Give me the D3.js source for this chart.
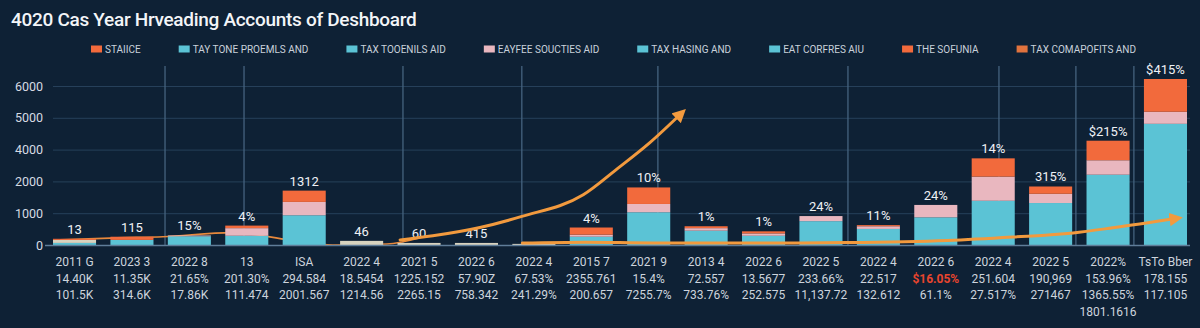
<!DOCTYPE html>
<html lang="en">
<head>
  <meta charset="UTF-8">
  <title>Deshboard</title>
  <script src="https://d3js.org/d3.v7.min.js"></script>
  <style>
    html, body { margin: 0; padding: 0; background: #0e2135; }
    svg { display: block; font-family: Roboto, "Noto Sans", sans-serif; }
  </style>
</head>
<body>

  <script>
    ((window, document) => {
      "use strict";

      /**
       * -----------------------------------------------------------------------
       *  Data
       * -----------------------------------------------------------------------
       */
      const TITLE = "4020 Cas Year Hrveading Accounts of Deshboard";

      const LEGEND_LABELS = [
        "STAIICE", "TAY TONE PROEMLS AND", "TAX TOOENILS AID", "EAYFEE SOUCTIES AID",
        "TAX HASING AND", "EAT CORFRES AIU", "THE SOFUNIA", "TAX COMAPOFITS AND",
      ];
      const LEGEND_COLORS = [
        "#f26a3c", "#5bc3d5", "#5bc3d5", "#e9b7bf",
        "#5bc3d5", "#5bc3d5", "#f26a3c", "#e0733e",
      ];

      // x labels, three rows (+ one extra line under "2022%")
      const ROW1 = [
        "2011 G", "2023 3", "2022 8", "13", "ISA", "2022 4", "2021 5", "2022 6", "2022 4", "2015 7",
        "2021 9", "2013 4", "2022 6", "2022 5", "2022 4", "2022 6", "2022 4", "2022 5", "2022%", "TsTo Bber",
      ];
      const ROW2 = [
        "14.40K", "11.35K", "21.65%", "201.30%", "294.584", "18.5454", "1225.152", "57.90Z", "67.53%", "2355.761",
        "15.4%", "72.557", "13.5677", "233.66%", "22.517", "$16.05%", "251.604", "190,969", "153.96%", "178.155",
      ];
      const ROW3 = [
        "101.5K", "314.6K", "17.86K", "111.474", "2001.567", "1214.56", "2265.15", "758.342", "241.29%", "200.657",
        "7255.7%", "733.76%", "252.575", "11,137.72", "132.612", "61.1%", "27.517%", "271467", "1365.55%", "117.105",
      ];
      const ROW4 = ["", "", "", "", "", "", "", "", "", "", "", "", "", "", "", "", "", "", "1801.1616", ""];
      const RED_LABEL = 15;

      const Y_TICKS = [0, 1000, 2000, 4000, 5000, 6000];

      // stacked segments, bottom to top
      const TEAL   = [65, 160, 275, 290, 935, 0, 0, 0, 0, 260, 1030, 450, 290, 750, 505, 870, 1390, 1320, 2420, 4810];
      const BEIGE  = [95, 0, 0, 0, 0, 130, 65, 65, 35, 0, 0, 0, 0, 0, 0, 0, 0, 0, 0, 0];
      const PINK   = [0, 0, 25, 240, 420, 0, 0, 0, 0, 65, 260, 80, 75, 160, 85, 390, 910, 290, 910, 380];
      const ORANGE = [35, 100, 0, 80, 355, 0, 0, 0, 0, 225, 520, 60, 65, 0, 35, 0, 1150, 230, 950, 1030];

      const BAR_LABELS = [
        "13", "115", "15%", "4%", "1312", "46", "60", "415", "", "4%",
        "10%", "1%", "1%", "24%", "11%", "24%", "14%", "315%", "$215%", "$415%",
      ];

      // trend lines: [category index, value]
      const TREND_THIN = [[-0.25, 160], [0.74, 225], [1.54, 260], [2.74, 390], [3.75, 160], [4.5, 0], [5.44, 30], [6.02, 225]];
      const TREND_UP = [[5.67, 160], [6.24, 290], [7.06, 550], [7.79, 900], [8.86, 1580], [9.45, 2790], [10.02, 4220], [10.58, 5160]];
      const TREND_FLAT = [[7.8, 60], [8.9, 90], [10.08, 65], [12.29, 65], [13.45, 75], [15.2, 140], [16.34, 250], [17.39, 380], [18.08, 540], [19.21, 840]];

      // vertical divider lines, at category index
      const DIVIDERS = [1.576, 2.952, 5.72, 7.79, 10.16, 13.47, 16.1, 17.44, 18.45];


      /**
       * -----------------------------------------------------------------------
       *  Scales
       * -----------------------------------------------------------------------
       */
      const WIDTH = 1200;
      const HEIGHT = 328;
      const PLOT = { left: 53, right: 1190, bottom: 245, step: 31.8 };

      let x = d3.scaleBand()
          .domain(d3.range(ROW1.length))
          .range([PLOT.left, 1187])
          .paddingInner(0.25)
          .paddingOuter(0);
      let half = x.bandwidth() / 2;
      let xi = d3.scaleLinear()
          .domain([0, ROW1.length - 1])
          .range([x(0) + half, x(ROW1.length - 1) + half]);
      // the ticks are evenly spaced although their values are not
      let y = d3.scaleLinear()
          .domain(Y_TICKS)
          .range(Y_TICKS.map((d, i) => PLOT.bottom - i * PLOT.step));


      /**
       * -----------------------------------------------------------------------
       *  Render
       * -----------------------------------------------------------------------
       */
      let svg = d3.select("body").append("svg")
          .attr("width", WIDTH)
          .attr("height", HEIGHT);

      svg.append("rect")
          .attr("width", WIDTH)
          .attr("height", HEIGHT)
          .attr("fill", "#0e2135");

      let defs = svg.append("defs");
      defs.append("marker")
          .attr("id", "arrow")
          .attr("viewBox", "0 0 10 10")
          .attr("refX", 6)
          .attr("refY", 5)
          .attr("markerWidth", 4.5)
          .attr("markerHeight", 4.5)
          .attr("orient", "auto")
        .append("path")
          .attr("d", "M0,0 L10,5 L0,10 Z")
          .attr("fill", "#f29a3e");

      // grid + y labels
      let yAxis = svg.append("g")
          .attr("transform", `translate(${PLOT.left},0)`)
          .call(d3.axisLeft(y)
            .tickValues(Y_TICKS)
            .tickFormat(d3.format("d"))
            .tickSize(-(PLOT.right - PLOT.left))
            .tickPadding(10));
      yAxis.select(".domain").remove();
      yAxis.selectAll(".tick line")
          .attr("stroke", "#26405a")
          .attr("stroke-width", 1);
      yAxis.selectAll(".tick text")
          .attr("fill", "#d5dbe3")
          .attr("font-size", 12.5)
          .attr("font-family", "Roboto, sans-serif");

      // dividers
      svg.append("g").selectAll("line")
        .data(DIVIDERS)
        .join("line")
          .attr("x1", d => xi(d))
          .attr("x2", d => xi(d))
          .attr("y1", y(6000) - 20)
          .attr("y2", PLOT.bottom)
          .attr("stroke", "#45637f")
          .attr("stroke-width", 1.3);

      let line = d3.line()
          .x(d => xi(d[0]))
          .y(d => y(d[1]))
          .curve(d3.curveMonotoneX);

      svg.append("path")
          .datum(TREND_THIN)
          .attr("d", line)
          .attr("fill", "none")
          .attr("stroke", "#e8893c")
          .attr("stroke-width", 1.6);

      // stacked bars
      const KEYS = ["teal", "beige", "pink", "orange"];
      const COLORS = { teal: "#5bc3d5", beige: "#d8d3bf", pink: "#e9b7bf", orange: "#f26a3c" };
      let rows = ROW1.map((_, i) => ({
        i, teal: TEAL[i], beige: BEIGE[i], pink: PINK[i], orange: ORANGE[i],
      }));
      let series = d3.stack().keys(KEYS)(rows);

      svg.append("g").selectAll("g")
        .data(series)
        .join("g")
          .attr("fill", s => COLORS[s.key])
        .selectAll("rect")
        .data(s => s.filter(d => d[1] > d[0]))
        .join("rect")
          .attr("x", d => x(d.data.i))
          .attr("y", d => y(d[1]))
          .attr("width", x.bandwidth())
          .attr("height", d => y(d[0]) - y(d[1]));

      // baseline
      svg.append("line")
          .attr("x1", PLOT.left - 8)
          .attr("x2", PLOT.right)
          .attr("y1", y(0) + 0.5)
          .attr("y2", y(0) + 0.5)
          .attr("stroke", "#5f7d99")
          .attr("stroke-width", 1.3);

      // bar labels
      let totals = rows.map(r => d3.sum(KEYS, k => r[k]));
      svg.append("g").selectAll("text")
        .data(BAR_LABELS)
        .join("text")
          .attr("x", (d, i) => x(i) + half)
          .attr("y", (d, i) => y(totals[i]) - 5)
          .attr("text-anchor", "middle")
          .attr("fill", "#eef1f5")
          .attr("font-size", 13)
          .text(d => d);

      // arrows
      [TREND_UP, TREND_FLAT].forEach(points => {
        svg.append("path")
            .datum(points)
            .attr("d", line)
            .attr("fill", "none")
            .attr("stroke", "#f29a3e")
            .attr("stroke-width", 3)
            .attr("stroke-linecap", "round")
            .attr("marker-end", "url(#arrow)");
      });

      // x labels
      let xLabels = svg.append("g").selectAll("text")
        .data(ROW1.map((d, i) => [d, ROW2[i], ROW3[i], ROW4[i]]))
        .join("text")
          .attr("text-anchor", "middle")
          .attr("font-size", 12)
          .attr("fill", "#cdd4dd");
      xLabels.selectAll("tspan")
        .data((rowsOf, i) => rowsOf.map(t => ({ t, i })))
        .join("tspan")
          .attr("x", d => x(d.i) + half)
          .attr("y", (d, k) => 266 + k * 16.5)
          .attr("fill", (d, k) => (k === 1 && d.i === RED_LABEL) ? "#e8452e" : null)
          .attr("font-weight", (d, k) => (k === 1 && d.i === RED_LABEL) ? 700 : null)
          .text(d => d.t);

      // legend
      let legend = svg.append("g").attr("font-size", 10).attr("fill", "#c9d1db");
      let lx = 91;
      LEGEND_LABELS.forEach((label, i) => {
        legend.append("rect")
            .attr("x", lx)
            .attr("y", 45.5)
            .attr("width", 11)
            .attr("height", 7)
            .attr("fill", LEGEND_COLORS[i]);
        let t = legend.append("text")
            .attr("x", lx + 14)
            .attr("y", 52.5)
            .text(label);
        lx += 14 + t.node().getComputedTextLength() + 38;
      });

      // title
      svg.append("text")
          .attr("x", 11)
          .attr("y", 26)
          .attr("fill", "#f3f5f8")
          .attr("font-size", 19)
          .attr("font-weight", 500)
          .attr("letter-spacing", -0.3)
          .text(TITLE);

    })(window, document);
  </script>

</body>
</html>
